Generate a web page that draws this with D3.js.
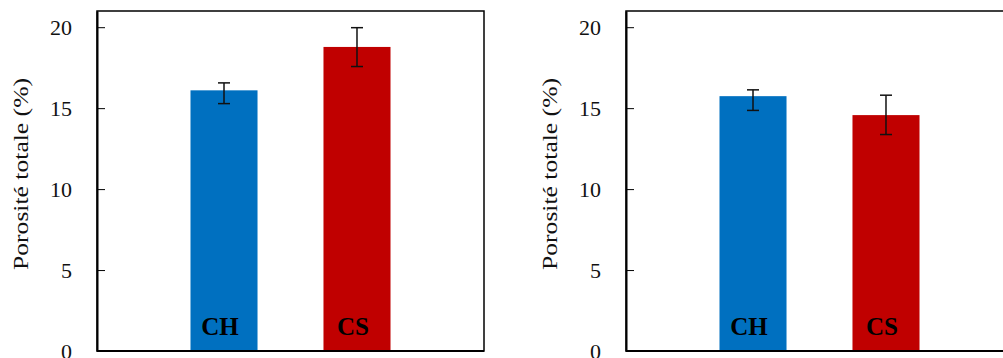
<!DOCTYPE html>
<html>
<head>
<meta charset="utf-8">
<script src="https://cdn.jsdelivr.net/npm/d3@7"></script>
<style>
  body { margin: 0; background: #fff; overflow: hidden; }
  svg { display: block; }
</style>
</head>
<body>
<div id="chart"></div>
<script>
var categories = ["CH", "CS"],
    colours = ["#0070C0", "#C00000"],
    yTicks = [0, 5, 10, 15, 20],
    yLabel = "Porosité totale (%)";

// left panel
var valuesA = [16.1, 18.78],
    errHighA = [16.56, 19.97],
    errLowA = [15.28, 17.57];

// right panel
var valuesB = [15.74, 14.57],
    errHighB = [16.13, 15.8],
    errLowB = [14.86, 13.37];

var W = 1003, H = 358;
var serif = "'Liberation Serif', 'Times New Roman', serif";

var svg = d3.select("#chart").append("svg")
    .attr("width", W)
    .attr("height", H);

var plotW = 387, plotTop = 11, plotBottom = 351;

var y = d3.scaleLinear()
    .domain([0, 21])
    .range([plotBottom, plotTop]);

var x = d3.scaleBand()
    .domain(categories)
    .range([0, plotW])
    .paddingInner(0.496)
    .paddingOuter(0.703);

function panel(left, values, hi, lo) {
  var g = svg.append("g").attr("transform", "translate(" + left + ",0)");
  var bw = x.bandwidth(), cx = function(d) { return x(d) + bw / 2; };

  g.selectAll(".bar")
    .data(categories)
    .enter().append("rect")
      .attr("class", "bar")
      .attr("x", function(d) { return x(d); })
      .attr("y", function(d, i) { return y(values[i]); })
      .attr("width", bw)
      .attr("height", function(d, i) { return y(0) - y(values[i]); })
      .attr("fill", function(d, i) { return colours[i]; });

  // error bars
  var eb = g.selectAll(".err")
    .data(categories)
    .enter().append("g")
      .attr("class", "err")
      .attr("stroke", "#111")
      .attr("stroke-width", 1.5);
  eb.append("line")
      .attr("x1", cx).attr("x2", cx)
      .attr("y1", function(d, i) { return y(hi[i]); })
      .attr("y2", function(d, i) { return y(lo[i]); });
  eb.append("line")
      .attr("x1", function(d) { return cx(d) - 6; })
      .attr("x2", function(d) { return cx(d) + 6; })
      .attr("y1", function(d, i) { return y(hi[i]); })
      .attr("y2", function(d, i) { return y(hi[i]); });
  eb.append("line")
      .attr("x1", function(d) { return cx(d) - 6; })
      .attr("x2", function(d) { return cx(d) + 6; })
      .attr("y1", function(d, i) { return y(lo[i]); })
      .attr("y2", function(d, i) { return y(lo[i]); });

  // category labels inside bars
  g.selectAll(".cat")
    .data(categories)
    .enter().append("text")
      .attr("class", "cat")
      .attr("x", function(d) { return cx(d) - 4; })
      .attr("y", 335)
      .attr("text-anchor", "middle")
      .style("font-family", serif)
      .style("font-weight", "bold")
      .style("font-size", "25px")
      .attr("fill", "#000")
      .text(function(d) { return d; });

  // frame
  g.append("rect")
      .attr("x", 0)
      .attr("y", plotTop)
      .attr("width", plotW)
      .attr("height", plotBottom - plotTop)
      .attr("fill", "none")
      .attr("stroke", "#000")
      .attr("stroke-width", 1.5);

  // y axis, inward ticks
  var yAxis = d3.axisLeft(y)
      .tickValues(yTicks)
      .tickSizeInner(-8)
      .tickSizeOuter(0)
      .tickPadding(25);

  var ax = g.append("g").call(yAxis);
  ax.select(".domain").attr("stroke-width", 2);
  ax.selectAll(".tick line").attr("stroke-width", 1);
  ax.selectAll(".tick text")
      .style("font-family", serif)
      .style("font-size", "22px")
      .attr("fill", "#111");

  g.append("line")
      .attr("x1", 0).attr("x2", plotW)
      .attr("y1", plotBottom).attr("y2", plotBottom)
      .attr("stroke", "#000")
      .attr("stroke-width", 2);

  g.append("text")
      .attr("transform", "translate(-77,174) rotate(-90)")
      .attr("text-anchor", "middle")
      .attr("dy", "0.35em")
      .style("font-family", serif)
      .style("font-size", "22px")
      .attr("textLength", 192)
      .attr("lengthAdjust", "spacingAndGlyphs")
      .attr("fill", "#111")
      .text(yLabel);
}

panel(97, valuesA, errHighA, errLowA);
panel(626, valuesB, errHighB, errLowB);
</script>
</body>
</html>
